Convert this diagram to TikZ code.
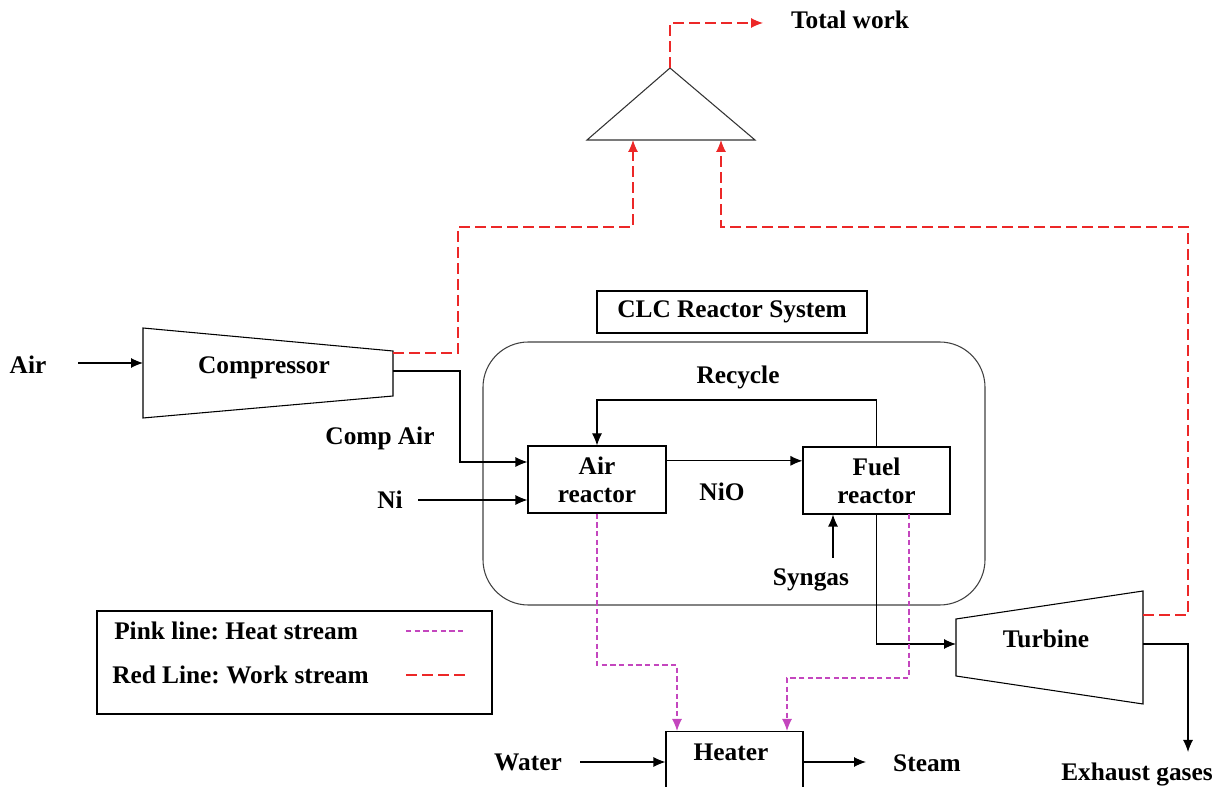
\documentclass[tikz,border=0pt]{standalone}
\usepackage{fontspec}
\setmainfont{Liberation Serif}
\usepackage{tikz}
\usetikzlibrary{arrows.meta, positioning}
\usepackage{xcolor}
\definecolor{workred}{RGB}{236,40,40}
\definecolor{heatpink}{RGB}{196,70,190}

\begin{document}
\begin{tikzpicture}[x=0.75pt,y=0.75pt,yscale=-1,xscale=1,
    lbl/.style={font=\fontsize{19}{21}\selectfont\bfseries\frenchspacing, inner sep=0.75pt, align=center},
    unit/.style={draw, line width=0.8pt, inner sep=0pt, align=center, font=\fontsize{19}{21}\selectfont\bfseries},
    tip/.style={-{Latex[length=9pt,width=7.5pt]}},
    flow/.style={line width=0.8pt, tip},
    work/.style={workred, line width=0.8pt, dash pattern=on 8pt off 4pt},
    heat/.style={heatpink, line width=0.9pt, dash pattern=on 4pt off 2.5pt}]
        \useasboundingbox (0,0) rectangle (1222,787);
        % Mixer (triangle)
        \draw [line width=0.8pt, black!80] (587,140) -- (670,68) -- (755,140) -- cycle ;
        \coordinate (tri-top) at (670,68);
        \coordinate (tri-l) at (633,140);
        \coordinate (tri-r) at (721,140);
        % Compressor
        \draw [line width=0.8pt] (143,328) -- (393,351) -- (393,396) -- (143,418) -- cycle ;
        \coordinate (comp-in) at (143,363);
        \coordinate (comp-w) at (393,353);
        \coordinate (comp-out) at (393,371);
        % Turbine
        \draw [line width=0.8pt] (956,619) -- (1143,591) -- (1143,704) -- (956,676) -- cycle ;
        \coordinate (turb-in) at (956,644);
        \coordinate (turb-w) at (1143,615);
        \coordinate (turb-out) at (1143,644);
        % Boxes
        \node [draw=black!75, line width=0.8pt, rounded corners=34pt, minimum width=376.5pt, minimum height=197.25pt] (clc) at (734,473.5) {};
        \node [unit, minimum width=202.5pt, minimum height=31.5pt] (clc-title) at (732,312) {CLC Reactor System};
        \node [unit, minimum width=103.5pt, minimum height=50.25pt] (ar) at (597,479.5) {Air\\reactor};
        \node [unit, minimum width=110.25pt, minimum height=50.25pt] (fr) at (876.5,480.5) {Fuel\\reactor};
        \node [unit, minimum width=102.75pt, minimum height=60pt, anchor=north] (heater) at (734.5,731) {};
        \node [unit, minimum width=296.25pt, minimum height=77.25pt] (legend) at (294.5,662.5) {};
        % Text Node
        \node [lbl] (air) at (28,365) {Air};
        \node [lbl] (comp-lbl) at (264,368) {Compressor};
        \node [lbl] (comp-air) at (380,438) {Comp Air};
        \node [lbl] (ni) at (390,500) {Ni};
        \node [lbl] (recycle) at (738,377) {Recycle};
        \node [lbl] (nio) at (722,492) {NiO};
        \node [lbl] (syngas) at (811,580) {Syngas};
        \node [lbl] (turb-lbl) at (1046,639) {Turbine};
        \node [lbl] (total) at (850,20) {Total work};
        \node [lbl] (exhaust) at (1137,775) {Exhaust gases};
        \node [lbl] (water) at (528,762) {Water};
        \node [lbl] (steam) at (927,763) {Steam};
        \node [lbl] (heater-lbl) at (731,752) {Heater};
        \node [lbl, anchor=west] (lg-heat) at (113,631) {Pink line: Heat stream};
        \node [lbl, anchor=west] (lg-work) at (111,675) {Red Line: Work stream};
        % free ends
        \coordinate (air-start) at (78,363);
        \coordinate (ni-start) at (418,500);
        \coordinate (ca) at (460,462);
        \coordinate (rc) at (700,400);
        \coordinate (sg-start) at (833,558);
        \coordinate (ex-end) at (1188,752);
        \coordinate (w-start) at (580,762);
        \coordinate (st-end) at (866,762);
        \coordinate (wk1) at (458,227);
        \coordinate (wk2) at (1188,227);
        \coordinate (work-end) at (763,23);
        \coordinate (fr-q) at (909,514);
        \coordinate (hl) at (677,665);
        \coordinate (hr) at (787,678);
        \coordinate (heat-l) at (677,731);
        \coordinate (heat-r) at (787,731);
        % Material streams
        \draw [flow] (air-start) -- (comp-in) ;
        \draw [flow] (comp-out) -| (ca) -- (ca -| ar.west) ;
        \draw [flow] (ni-start) -- (ni-start -| ar.west) ;
        \draw [flow] ([yshift=-14pt]ar.east) -- ([yshift=-14pt]ar.east -| fr.west) ;
        \draw [flow] (fr.north) |- (rc) -| (ar.north) ;
        \draw [flow] (sg-start) -- (sg-start |- fr.south) ;
        \draw [flow] (fr.south) |- (turb-in) ;
        \draw [flow] (turb-out) -| (ex-end) ;
        \draw [flow] (w-start) -- (w-start -| heater.west) ;
        \draw [flow] (heater.east |- st-end) -- (st-end) ;
        % Work streams
        \draw [work, tip] (comp-w) -| (wk1) -| (tri-l) ;
        \draw [work, tip] (turb-w) -| (wk2) -| (tri-r) ;
        \draw [work, tip] (tri-top) |- (work-end) ;
        % Heat streams
        \draw [heat, tip] (ar.south) |- (hl) -- (heat-l) ;
        \draw [heat, tip] (fr-q) |- (hr) -- (heat-r) ;
        % Legend lines
        \coordinate (lp1) at (406,631);
        \coordinate (lp2) at (465,631);
        \coordinate (lw1) at (406,675);
        \coordinate (lw2) at (465,675);
        \draw [heat] (lp1) -- (lp2) ;
        \draw [work] (lw1) -- (lw2) ;
\end{tikzpicture}
\end{document}
